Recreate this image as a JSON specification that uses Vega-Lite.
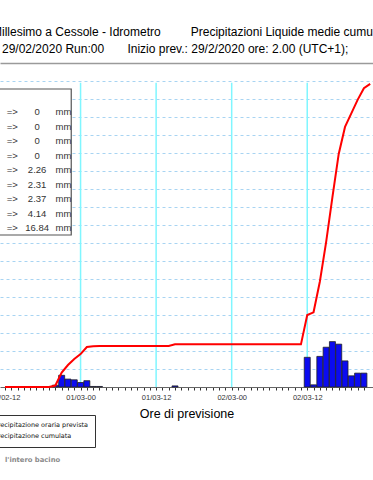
{
  "$schema": "https://vega.github.io/schema/vega-lite/v6.json",
  "width": 373,
  "height": 324,
  "autosize": {"type": "none"},
  "padding": {"top": 63, "left": 0, "right": 0, "bottom": 93},
  "background": "white",
  "config": {
    "view": {"stroke": null},
    "font": "Liberation Sans",
    "axis": {"labelFont": "Liberation Sans", "titleFont": "Liberation Sans"}
  },
  "title": {
    "text": "Millesimo a Cessole - Idrometro\u00a0\u00a0\u00a0\u00a0\u00a0\u00a0\u00a0\u00a0\u00a0Precipitazioni Liquide medie cumulate",
    "subtitle": "\u200b\u00a0\u00a0\u00a029/02/2020 Run:00\u00a0\u00a0\u00a0\u00a0\u00a0\u00a0\u00a0Inizio prev.: 29/2/2020 ore: 2.00 (UTC+1);",
    "anchor": "start",
    "frame": "group",
    "dx": -8,
    "offset": 7,
    "font": "Liberation Sans",
    "fontSize": 12,
    "fontWeight": "normal",
    "color": "#000",
    "subtitleFont": "Liberation Sans",
    "subtitleFontSize": 12,
    "subtitleColor": "#000",
    "subtitlePadding": 5
  },
  "datasets": {
    "orarie": [
      {"ora": 20, "mm": 0.1, "serie": "Precipitazione oraria prevista"},
      {"ora": 21, "mm": 0.65, "serie": "Precipitazione oraria prevista"},
      {"ora": 22, "mm": 0.44, "serie": "Precipitazione oraria prevista"},
      {"ora": 23, "mm": 0.4, "serie": "Precipitazione oraria prevista"},
      {"ora": 24, "mm": 0.25, "serie": "Precipitazione oraria prevista"},
      {"ora": 25, "mm": 0.35, "serie": "Precipitazione oraria prevista"},
      {"ora": 26, "mm": 0.03, "serie": "Precipitazione oraria prevista"},
      {"ora": 27, "mm": 0.03, "serie": "Precipitazione oraria prevista"},
      {"ora": 39, "mm": 0.06, "serie": "Precipitazione oraria prevista"},
      {"ora": 60, "mm": 1.65, "serie": "Precipitazione oraria prevista"},
      {"ora": 61, "mm": 0.12, "serie": "Precipitazione oraria prevista"},
      {"ora": 62, "mm": 1.7, "serie": "Precipitazione oraria prevista"},
      {"ora": 63, "mm": 2.21, "serie": "Precipitazione oraria prevista"},
      {"ora": 64, "mm": 2.52, "serie": "Precipitazione oraria prevista"},
      {"ora": 65, "mm": 2.38, "serie": "Precipitazione oraria prevista"},
      {"ora": 66, "mm": 1.45, "serie": "Precipitazione oraria prevista"},
      {"ora": 67, "mm": 0.62, "serie": "Precipitazione oraria prevista"},
      {"ora": 68, "mm": 0.77, "serie": "Precipitazione oraria prevista"},
      {"ora": 69, "mm": 0.77, "serie": "Precipitazione oraria prevista"}
    ],
    "cumulata": [
      {"ora": 12, "mm": 0, "serie": "Precipitazione cumulata"},
      {"ora": 19, "mm": 0, "serie": "Precipitazione cumulata"},
      {"ora": 20, "mm": 0.08, "serie": "Precipitazione cumulata"},
      {"ora": 21, "mm": 0.8, "serie": "Precipitazione cumulata"},
      {"ora": 22, "mm": 1.22, "serie": "Precipitazione cumulata"},
      {"ora": 23, "mm": 1.56, "serie": "Precipitazione cumulata"},
      {"ora": 24, "mm": 1.83, "serie": "Precipitazione cumulata"},
      {"ora": 25, "mm": 2.22, "serie": "Precipitazione cumulata"},
      {"ora": 26, "mm": 2.26, "serie": "Precipitazione cumulata"},
      {"ora": 27, "mm": 2.28, "serie": "Precipitazione cumulata"},
      {"ora": 38, "mm": 2.28, "serie": "Precipitazione cumulata"},
      {"ora": 39, "mm": 2.37, "serie": "Precipitazione cumulata"},
      {"ora": 59, "mm": 2.37, "serie": "Precipitazione cumulata"},
      {"ora": 60, "mm": 4.0, "serie": "Precipitazione cumulata"},
      {"ora": 61, "mm": 4.15, "serie": "Precipitazione cumulata"},
      {"ora": 62, "mm": 5.85, "serie": "Precipitazione cumulata"},
      {"ora": 63, "mm": 8.05, "serie": "Precipitazione cumulata"},
      {"ora": 64, "mm": 10.55, "serie": "Precipitazione cumulata"},
      {"ora": 65, "mm": 12.95, "serie": "Precipitazione cumulata"},
      {"ora": 66, "mm": 14.45, "serie": "Precipitazione cumulata"},
      {"ora": 67, "mm": 15.2, "serie": "Precipitazione cumulata"},
      {"ora": 68, "mm": 15.95, "serie": "Precipitazione cumulata"},
      {"ora": 69, "mm": 16.6, "serie": "Precipitazione cumulata"},
      {"ora": 70, "mm": 16.84, "serie": "Precipitazione cumulata"}
    ],
    "ore12": [
      {"ora": 24},
      {"ora": 36},
      {"ora": 48},
      {"ora": 60}
    ],
    "tabella": [
      {"riga": 1, "valore": "0"},
      {"riga": 2, "valore": "0"},
      {"riga": 3, "valore": "0"},
      {"riga": 4, "valore": "0"},
      {"riga": 5, "valore": "2.26"},
      {"riga": 6, "valore": "2.31"},
      {"riga": 7, "valore": "2.37"},
      {"riga": 8, "valore": "4.14"},
      {"riga": 9, "valore": "16.84"}
    ],
    "nota": [{"testo": "l'intero bacino"}]
  },
  "layer": [
    {
      "layer": [
        {
          "data": {"name": "ore12"},
          "mark": {"type": "rule", "color": "#7ff6ff", "strokeWidth": 1.5},
          "encoding": {
            "x": {"field": "ora", "type": "quantitative", "title": "Ore di previsione",
              "scale": {"domain": [12, 69.65], "nice": false, "zero": false}},
            "y": {"datum": 0, "type": "quantitative", "scale": {"domain": [0, 18], "nice": false, "zero": true}},
            "y2": {"datum": 16.9}
          }
        },
        {
          "data": {"name": "orarie"},
          "mark": {"type": "bar", "width": 6, "stroke": "#222", "strokeWidth": 0.8},
          "encoding": {
            "x": {"field": "ora", "type": "quantitative", "title": "Ore di previsione",
              "scale": {"domain": [12, 69.65], "nice": false, "zero": false},
              "axis": {
                "values": [12, 13, 14, 15, 16, 17, 18, 19, 20, 21, 22, 23, 24, 25, 26, 27, 28, 29, 30, 31, 32, 33, 34, 35, 36, 37, 38, 39, 40, 41, 42, 43, 44, 45, 46, 47, 48, 49, 50, 51, 52, 53, 54, 55, 56, 57, 58, 59, 60, 61, 62, 63, 64, 65, 66, 67, 68, 69],
                "tickCount": 200,
                "labelExpr": "datum.value % 12 === 0 ? (datum.value < 24 ? '29/02' : datum.value < 48 ? '01/03' : '02/03') + '-' + (datum.value % 24 === 0 ? '00' : '12') : ''",
                "labelFlush": false,
                "labelOverlap": false,
                "labelBound": false,
                "grid": false,
                "domainColor": "#666",
                "domainWidth": 1,
                "tickColor": "#333",
                "tickSize": 3,
                "labelFontSize": 7.5,
                "labelColor": "#333",
                "labelPadding": 3,
                "titleFontSize": 12.5,
                "titleFontWeight": "normal",
                "titleColor": "#000",
                "titlePadding": 7
              }},
            "y": {"field": "mm", "type": "quantitative",
              "scale": {"domain": [0, 18], "nice": false, "zero": true},
              "axis": {
                "values": [1, 2, 3, 4, 5, 6, 7, 8, 9, 10, 11, 12, 13, 14, 15, 16, 17, 18],
                "tickCount": 40,
                "grid": true,
                "gridColor": {"condition": {"test": "datum.value === 18", "value": "#9a9a9a"}, "value": "#a8d4f2"},
                "gridDash": {"condition": {"test": "datum.value === 18", "value": []}, "value": [3, 3]},
                "gridWidth": {"condition": {"test": "datum.value === 18", "value": 1.6}, "value": 1},
                "domain": false, "ticks": false, "labels": false, "title": null
              }},
            "color": {"field": "serie", "type": "nominal",
              "scale": {"domain": ["Precipitazione oraria prevista", "Precipitazione cumulata"], "range": ["#0b0bf0", "#ff0000"]},
              "legend": {"orient": "none", "legendX": -23, "legendY": 352, "title": null,
                "labelFont": "DejaVu Sans", "labelFontSize": 6.45, "labelColor": "#111",
                "strokeColor": "#333", "fillColor": "#ffffff", "padding": 6,
                "symbolSize": 25, "rowPadding": 0, "labelOffset": 4}}
          }
        },
        {
          "data": {"name": "cumulata"},
          "mark": {"type": "line", "strokeWidth": 2},
          "encoding": {
            "x": {"field": "ora", "type": "quantitative", "title": "Ore di previsione",
              "scale": {"domain": [12, 69.65], "nice": false, "zero": false}},
            "y": {"field": "mm", "type": "quantitative", "scale": {"domain": [0, 18], "nice": false, "zero": true}},
            "color": {"field": "serie", "type": "nominal",
              "scale": {"domain": ["Precipitazione oraria prevista", "Precipitazione cumulata"], "range": ["#0b0bf0", "#ff0000"]},
              "legend": {"orient": "none", "legendX": -23, "legendY": 352, "title": null,
                "labelFont": "DejaVu Sans", "labelFontSize": 6.45, "labelColor": "#111",
                "strokeColor": "#333", "fillColor": "#ffffff", "padding": 6,
                "symbolSize": 25, "rowPadding": 0, "labelOffset": 4}}
          }
        },
        {
          "data": {"name": "nota"},
          "mark": {"type": "text", "align": "left", "baseline": "middle", "font": "DejaVu Sans", "fontWeight": "bold", "fontSize": 6.8, "color": "#8a8a8a"},
          "encoding": {
            "x": {"datum": 12, "type": "quantitative", "title": "Ore di previsione",
              "scale": {"domain": [12, 69.65], "nice": false, "zero": false}},
            "y": {"datum": -4.06, "type": "quantitative", "scale": {"domain": [0, 18], "nice": false, "zero": true}},
            "text": {"field": "testo"}
          }
        }
      ]
    },
    {
      "layer": [
        {
          "data": {"values": [{"riquadro": "tabella"}]},
          "mark": {"type": "rect", "fill": "#ffffff", "stroke": "#555", "strokeWidth": 1.2},
          "encoding": {
            "x": {"datum": 11, "type": "quantitative", "title": "Ore di previsione",
              "scale": {"domain": [12, 69.65], "nice": false, "zero": false}},
            "x2": {"datum": 22.52},
            "y": {"datum": -0.587, "type": "quantitative", "scale": {"domain": [-2.38, 19.965], "reverse": true, "nice": false, "zero": false}, "axis": null},
            "y2": {"datum": 9.482}
          }
        },
        {
          "data": {"name": "tabella"},
          "mark": {"type": "text", "align": "center", "baseline": "middle", "font": "Liberation Sans", "fontSize": 9.5, "color": "#333"},
          "encoding": {
            "x": {"datum": 13.16, "type": "quantitative", "title": "Ore di previsione",
              "scale": {"domain": [12, 69.65], "nice": false, "zero": false}},
            "y": {"field": "riga", "type": "quantitative", "scale": {"domain": [-2.38, 19.965], "reverse": true, "nice": false, "zero": false}, "axis": null},
            "text": {"value": "=>"}
          }
        },
        {
          "data": {"name": "tabella"},
          "mark": {"type": "text", "align": "center", "baseline": "middle", "font": "Liberation Sans", "fontSize": 9.5, "color": "#333"},
          "encoding": {
            "x": {"datum": 17.1, "type": "quantitative", "title": "Ore di previsione",
              "scale": {"domain": [12, 69.65], "nice": false, "zero": false}},
            "y": {"field": "riga", "type": "quantitative", "scale": {"domain": [-2.38, 19.965], "reverse": true, "nice": false, "zero": false}, "axis": null},
            "text": {"field": "valore"}
          }
        },
        {
          "data": {"name": "tabella"},
          "mark": {"type": "text", "align": "left", "baseline": "middle", "font": "Liberation Sans", "fontSize": 9.5, "color": "#333"},
          "encoding": {
            "x": {"datum": 20.04, "type": "quantitative", "title": "Ore di previsione",
              "scale": {"domain": [12, 69.65], "nice": false, "zero": false}},
            "y": {"field": "riga", "type": "quantitative", "scale": {"domain": [-2.38, 19.965], "reverse": true, "nice": false, "zero": false}, "axis": null},
            "text": {"value": "mm"}
          }
        }
      ]
    }
  ],
  "resolve": {"scale": {"y": "independent"}}
}
